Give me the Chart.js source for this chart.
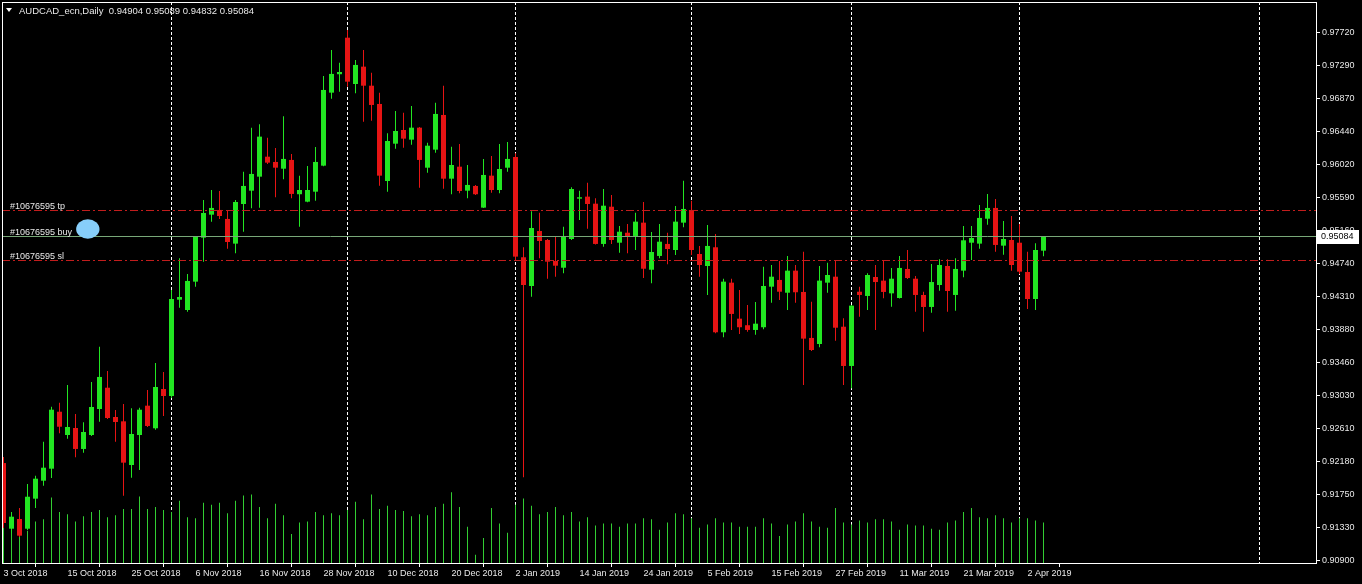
<!DOCTYPE html>
<html>
<head>
<meta charset="utf-8">
<script src="https://cdn.jsdelivr.net/npm/chart.js@4.4.0/dist/chart.umd.min.js"></script>
<style>
html,body{margin:0;padding:0;background:#000;}
canvas{display:block;}
</style>
</head>
<body>
<canvas id="myChart" width="1362" height="584"></canvas>
<script>
const symbol = 'AUDCAD_ecn,Daily';
const orderId = '#10676595';

const dates = [
 '2018.10.03','2018.10.04','2018.10.05','2018.10.08','2018.10.09','2018.10.10','2018.10.11','2018.10.12','2018.10.15','2018.10.16',
 '2018.10.17','2018.10.18','2018.10.19','2018.10.22','2018.10.23','2018.10.24','2018.10.25','2018.10.26','2018.10.29','2018.10.30',
 '2018.10.31','2018.11.01','2018.11.02','2018.11.05','2018.11.06','2018.11.07','2018.11.08','2018.11.09','2018.11.12','2018.11.13',
 '2018.11.14','2018.11.15','2018.11.16','2018.11.19','2018.11.20','2018.11.21','2018.11.22','2018.11.23','2018.11.26','2018.11.27',
 '2018.11.28','2018.11.29','2018.11.30','2018.12.03','2018.12.04','2018.12.05','2018.12.06','2018.12.07','2018.12.10','2018.12.11',
 '2018.12.12','2018.12.13','2018.12.14','2018.12.17','2018.12.18','2018.12.19','2018.12.20','2018.12.21','2018.12.24','2018.12.25',
 '2018.12.26','2018.12.27','2018.12.28','2018.12.31','2019.01.02','2019.01.03','2019.01.04','2019.01.07','2019.01.08','2019.01.09',
 '2019.01.10','2019.01.11','2019.01.14','2019.01.15','2019.01.16','2019.01.17','2019.01.18','2019.01.21','2019.01.22','2019.01.23',
 '2019.01.24','2019.01.25','2019.01.28','2019.01.29','2019.01.30','2019.01.31','2019.02.01','2019.02.04','2019.02.05','2019.02.06',
 '2019.02.07','2019.02.08','2019.02.11','2019.02.12','2019.02.13','2019.02.14','2019.02.15','2019.02.18','2019.02.19','2019.02.20',
 '2019.02.21','2019.02.22','2019.02.25','2019.02.26','2019.02.27','2019.02.28','2019.03.01','2019.03.04','2019.03.05','2019.03.06',
 '2019.03.07','2019.03.08','2019.03.11','2019.03.12','2019.03.13','2019.03.14','2019.03.15','2019.03.18','2019.03.19','2019.03.20',
 '2019.03.21','2019.03.22','2019.03.25','2019.03.26','2019.03.27','2019.03.28','2019.03.29','2019.04.01','2019.04.02','2019.04.03',
 '2019.04.04'
];

const opens = [
 0.92161,0.91313,0.91438,0.91313,0.91701,0.91933,0.92088,0.92824,0.92523,0.92614,
 0.92343,0.92523,0.92859,0.93134,0.92756,0.92700,0.92136,0.92523,0.92902,0.92610,
 0.93117,0.93027,0.94271,0.94138,0.94504,0.95072,0.95369,0.95430,0.95314,0.94995,
 0.95507,0.95679,0.95860,0.96118,0.96050,0.95963,0.96076,0.95633,0.95537,0.95666,
 0.96002,0.96945,0.97183,0.97655,0.97057,0.97281,0.97035,0.96799,0.95804,0.96286,
 0.96463,0.96338,0.96493,0.95976,0.96209,0.96657,0.95834,0.95989,0.95679,0.95740,
 0.95460,0.95873,0.95688,0.95976,0.96114,0.94819,0.94448,0.95158,0.95042,0.94771,
 0.94684,0.95055,0.95576,0.95602,0.95511,0.94991,0.95472,0.95007,0.95136,0.95094,
 0.95266,0.94658,0.94836,0.94991,0.94913,0.95266,0.95430,0.94861,0.94706,0.94948,
 0.93850,0.94491,0.94026,0.93941,0.93880,0.93915,0.94439,0.94526,0.94361,0.94646,
 0.94371,0.93777,0.93699,0.94491,0.94568,0.93922,0.93415,0.94374,0.94319,0.94564,
 0.94517,0.94353,0.94293,0.94668,0.94542,0.94332,0.94177,0.94461,0.94706,0.94332,
 0.94646,0.95007,0.94995,0.95317,0.95456,0.94969,0.95042,0.95007,0.94629,0.94280,
 0.94904
];
const highs = [
 0.92239,0.91529,0.91581,0.91891,0.91998,0.92437,0.92889,0.92941,0.93169,0.92795,
 0.92688,0.93208,0.93664,0.93350,0.92846,0.92924,0.92868,0.92876,0.93105,0.93453,
 0.93337,0.94396,0.94806,0.94603,0.95094,0.95559,0.95688,0.95675,0.95417,0.95559,
 0.95924,0.96493,0.96537,0.96364,0.96231,0.96640,0.96153,0.95873,0.95998,0.96244,
 0.97161,0.97496,0.97332,0.97755,0.97367,0.97496,0.97203,0.96945,0.96421,0.96708,
 0.96686,0.96773,0.96502,0.96299,0.96816,0.97035,0.96247,0.96282,0.96011,0.95753,
 0.96089,0.96127,0.96282,0.96308,0.96162,0.94948,0.95413,0.95395,0.95055,0.95094,
 0.95214,0.95723,0.95679,0.95783,0.95581,0.95701,0.95623,0.95223,0.95249,0.95395,
 0.95533,0.95146,0.95249,0.95136,0.95481,0.95808,0.95550,0.94965,0.95236,0.95120,
 0.94542,0.94542,0.94396,0.94203,0.94241,0.94697,0.94719,0.94771,0.94836,0.94719,
 0.94891,0.94245,0.94706,0.94749,0.94771,0.94031,0.94203,0.94439,0.94612,0.94719,
 0.94784,0.94681,0.94836,0.94913,0.94577,0.94374,0.94732,0.94793,0.94793,0.94806,
 0.95223,0.95223,0.95494,0.95637,0.95572,0.95288,0.95352,0.95249,0.94891,0.95000,
 0.95089
];
const lows = [
 0.91322,0.91257,0.91206,0.91296,0.91581,0.91869,0.91968,0.92545,0.92475,0.92235,
 0.92295,0.92510,0.92695,0.92730,0.92437,0.91739,0.91972,0.92071,0.92627,0.92592,
 0.92769,0.93001,0.94168,0.94116,0.94439,0.94762,0.95279,0.95314,0.94930,0.94871,
 0.95149,0.95452,0.95460,0.96024,0.95594,0.95826,0.95581,0.95214,0.95530,0.95550,
 0.95995,0.96867,0.96958,0.97022,0.96937,0.96570,0.96583,0.95744,0.95666,0.96221,
 0.96234,0.96273,0.95718,0.95911,0.96170,0.95705,0.95633,0.95645,0.95581,0.95623,
 0.95456,0.95653,0.95645,0.95924,0.94784,0.91977,0.94310,0.94806,0.94542,0.94568,
 0.94612,0.95042,0.95301,0.95188,0.94984,0.94956,0.94991,0.94878,0.94871,0.94913,
 0.94551,0.94483,0.94806,0.94728,0.94848,0.95206,0.94848,0.94568,0.94332,0.93837,
 0.93786,0.93880,0.93828,0.93858,0.93819,0.93889,0.94232,0.94267,0.94138,0.94232,
 0.93169,0.93608,0.93656,0.94361,0.93741,0.93169,0.93127,0.94052,0.94138,0.93880,
 0.94289,0.94181,0.94287,0.94538,0.94116,0.93858,0.94103,0.94387,0.94116,0.94129,
 0.94560,0.94784,0.94930,0.95240,0.94891,0.94852,0.94646,0.94603,0.94151,0.94138,
 0.94832
];
const closes = [
 0.91387,0.91468,0.91223,0.91726,0.91959,0.92101,0.92850,0.92630,0.92627,0.92343,
 0.92562,0.92885,0.93273,0.92743,0.92691,0.92166,0.92536,0.92850,0.92640,0.93143,
 0.93027,0.94280,0.94306,0.94513,0.95085,0.95391,0.95456,0.95352,0.95016,0.95533,
 0.95740,0.95895,0.96377,0.96041,0.95976,0.96089,0.95637,0.95688,0.95688,0.96050,
 0.96980,0.97187,0.97212,0.97087,0.97303,0.97035,0.96786,0.95873,0.96321,0.96450,
 0.96351,0.96493,0.96076,0.96260,0.96670,0.95834,0.96011,0.95675,0.95753,0.95633,
 0.95882,0.95688,0.95959,0.96089,0.94827,0.94461,0.95197,0.95029,0.94762,0.94710,
 0.95085,0.95701,0.95594,0.95507,0.94991,0.95485,0.95042,0.95149,0.95094,0.95279,
 0.94671,0.94887,0.95020,0.94926,0.95279,0.95443,0.94913,0.94719,0.94965,0.93850,
 0.94504,0.94087,0.93915,0.93880,0.93961,0.94448,0.94568,0.94374,0.94646,0.94367,
 0.93768,0.93621,0.94517,0.94590,0.93909,0.93415,0.94194,0.94332,0.94590,0.94499,
 0.94371,0.94542,0.94681,0.94551,0.94332,0.94177,0.94499,0.94719,0.94383,0.94668,
 0.95038,0.95068,0.95327,0.95456,0.94978,0.95055,0.94719,0.94633,0.94280,0.94913,
 0.95084
];
const volumes = [
 38,32,39,31,40,42,63,49,47,40, 45,49,51,44,46,52,52,64,52,54,
 51,49,60,44,43,58,56,58,48,60, 65,66,54,43,57,46,28,39,40,49,
 46,48,46,51,59,42,66,52,55,51, 50,45,47,46,54,57,68,54,35,8,
 24,53,38,29,56,62,55,47,49,54, 46,49,40,44,36,38,38,35,38,38,
 43,42,32,39,48,47,43,34,37,43, 39,39,35,35,35,43,38,26,37,40,
 48,40,35,34,53,39,37,41,39,42, 42,40,32,37,36,36,33,32,39,41,
 49,53,44,43,46,43,39,43,43,41,39
];

const priceTicks = ['0.97720','0.97290','0.96870','0.96440','0.96020','0.95590','0.95160','0.94740','0.94310',
                    '0.93880','0.93460','0.93030','0.92610','0.92180','0.91750','0.91330','0.90900'];

const tpLevel = 0.95417;
const slLevel = 0.94771;
const buyLevel = 0.95084;
const futureGrid = 157;   // next period separator in the empty right margin
const marker = {x: 10.54, price: 0.95184};   // light blue ellipse drawn on the chart

const monthNames = ['Jan','Feb','Mar','Apr','May','Jun','Jul','Aug','Sep','Oct','Nov','Dec'];
function fmtDate(s){
    let p = s.split('.');
    return parseInt(p[2]) + ' ' + monthNames[parseInt(p[1]) - 1] + ' ' + p[0];
}

let tickIdx = [];
for (let i = 0; i < dates.length; i += 8) tickIdx.push(i);
let gridIdx = [];
for (let i = 1; i < dates.length; i++) {
    if (dates[i].slice(5, 7) !== dates[i - 1].slice(5, 7)) gridIdx.push(i);
}
gridIdx.push(futureGrid);

const up = '#22e622', down = '#e61414';
let colors = opens.map((o, i) => closes[i] >= o ? up : down);
let bodies = opens.map((o, i) => ({x: i, y: [o, closes[i]]}));
let wicks = lows.map((l, i) => ({x: i, y: [l, highs[i]]}));
let vols = volumes.map((v, i) => ({x: i, y: v}));

const FAMILY = '"Liberation Sans", Arial, sans-serif';
const FONT = '9px ' + FAMILY;
const last = closes.length - 1;

const overlay = {
    id: 'overlay',
    beforeDatasetsDraw(chart) {
        const {ctx, chartArea: a, scales: {x}} = chart;
        ctx.save();
        ctx.strokeStyle = '#ffffff';
        ctx.lineWidth = 1;
        ctx.setLineDash([3, 2]);
        gridIdx.forEach(i => {
            let px = Math.round(x.getPixelForValue(i) - 0.5) + 0.5;
            ctx.beginPath();
            ctx.moveTo(px, a.top);
            ctx.lineTo(px, a.bottom);
            ctx.stroke();
        });
        ctx.restore();
    },
    afterDatasetsDraw(chart) {
        const {ctx, chartArea: a, scales: {x, y}} = chart;
        const hline = (v, color, dash) => {
            let py = Math.round(y.getPixelForValue(v) - 0.5) + 0.5;
            ctx.strokeStyle = color;
            ctx.setLineDash(dash);
            ctx.beginPath();
            ctx.moveTo(a.left, py);
            ctx.lineTo(a.right, py);
            ctx.stroke();
            return py;
        };
        ctx.save();
        ctx.lineWidth = 1;
        let tpY = hline(tpLevel, '#c21d1d', [8, 3, 2, 3]);
        let slY = hline(slLevel, '#c21d1d', [8, 3, 2, 3]);
        let buyY = hline(buyLevel, '#78a878', []);

        ctx.font = FONT;
        ctx.fillStyle = '#e8e8e8';
        ctx.textAlign = 'left';
        ctx.textBaseline = 'alphabetic';
        ctx.fillText(orderId + ' tp', 10, tpY - 2);
        ctx.fillText(orderId + ' buy', 10, buyY - 1.5);
        ctx.fillText(orderId + ' sl', 10, slY - 2);

        // ellipse object
        ctx.fillStyle = '#87cefa';
        ctx.beginPath();
        ctx.ellipse(x.getPixelForValue(marker.x), y.getPixelForValue(marker.price), 11.7, 9.7, 0, 0, Math.PI * 2);
        ctx.fill();

        // header
        ctx.fillStyle = '#ffffff';
        ctx.beginPath();
        ctx.moveTo(6, 8);
        ctx.lineTo(12, 8);
        ctx.lineTo(9, 12);
        ctx.closePath();
        ctx.fill();
        ctx.fillStyle = '#e8e8e8';
        ctx.font = '9.5px ' + FAMILY;
        ctx.fillText(symbol + '  ' + [opens[last], highs[last], lows[last], closes[last]].map(v => v.toFixed(5)).join(' '), 19, 14);
        ctx.restore();
    },
    afterDraw(chart) {
        const {ctx, chartArea: a, scales: {y}} = chart;
        ctx.save();
        ctx.strokeStyle = '#ffffff';
        ctx.lineWidth = 1;
        ctx.strokeRect(a.left + 0.5, a.top + 0.5, a.right - a.left, a.bottom - a.top);

        let py = y.getPixelForValue(closes[last]);
        ctx.fillStyle = '#ffffff';
        ctx.fillRect(a.right + 1, Math.round(py) - 7, 42, 14);
        ctx.fillStyle = '#000000';
        ctx.font = FONT;
        ctx.textBaseline = 'middle';
        ctx.fillText(closes[last].toFixed(5), a.right + 5, Math.round(py));
        ctx.restore();
    }
};

var ctx = document.getElementById('myChart').getContext('2d');
var myChart = new Chart(ctx, {
    type: 'bar',
    data: {
        datasets: [{
            data: bodies,
            backgroundColor: colors,
            barThickness: 5,
            grouped: false,
            minBarLength: 1,
            inflateAmount: 0,
            borderWidth: 0,
            yAxisID: 'y'
        }, {
            data: wicks,
            backgroundColor: colors,
            barThickness: 1,
            grouped: false,
            inflateAmount: 0,
            borderWidth: 0,
            yAxisID: 'y'
        }, {
            data: vols,
            backgroundColor: '#32cd32',
            barThickness: 1,
            grouped: false,
            inflateAmount: 0,
            borderWidth: 0,
            yAxisID: 'v'
        }]
    },
    options: {
        responsive: false,
        animation: false,
        events: [],
        layout: {padding: {left: 2, top: 2, right: 0, bottom: 0}},
        plugins: {legend: {display: false}, tooltip: {enabled: false}},
        scales: {
            x: {
                type: 'linear',
                min: -0.1875,
                max: 164.0625,
                offset: false,
                border: {display: false},
                grid: {drawOnChartArea: false, drawTicks: true, tickLength: 4, color: '#ffffff'},
                afterBuildTicks: s => { s.ticks = tickIdx.map(v => ({value: v})); },
                afterFit: s => { s.height = 21; s.paddingLeft = 0; s.paddingRight = 0; },
                ticks: {
                    autoSkip: false,
                    maxRotation: 0,
                    align: 'start',
                    padding: 1,
                    color: '#e8e8e8',
                    font: {family: FAMILY, size: 9},
                    callback: v => dates[v] ? fmtDate(dates[v]) : ''
                }
            },
            y: {
                position: 'right',
                min: 0.90870,
                max: 0.98116,
                border: {display: false},
                grid: {drawOnChartArea: false, drawTicks: true, tickLength: 4, color: '#ffffff'},
                afterBuildTicks: s => { s.ticks = priceTicks.map(t => ({value: parseFloat(t)})); },
                afterFit: s => { s.width = 46; s.paddingTop = 0; s.paddingBottom = 0; },
                ticks: {
                    autoSkip: false,
                    padding: 2,
                    color: '#e8e8e8',
                    font: {family: FAMILY, size: 9},
                    callback: (v, i) => priceTicks[i]
                }
            },
            v: {
                display: false,
                min: 0,
                max: 540
            }
        }
    },
    plugins: [overlay]
});
</script>
</body>
</html>
